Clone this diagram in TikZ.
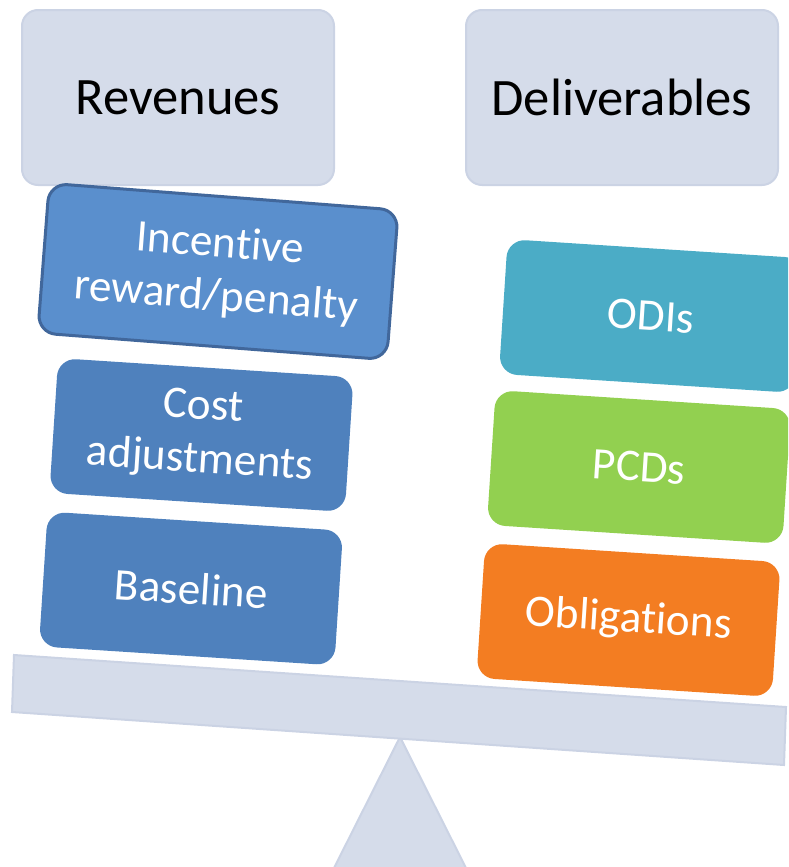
\documentclass[tikz,border=0pt]{standalone}
\usepackage{fontspec}
\setmainfont{Carlito}[Ligatures=NoCommon,RawFeature={-liga,-clig,-calt}]

\definecolor{panel}{HTML}{D5DCEA}
\definecolor{panelline}{HTML}{CBD3E4}
\definecolor{incentive}{HTML}{5A8FCD}
\definecolor{incentiveline}{HTML}{41679B}
\definecolor{revblue}{HTML}{4F81BD}
\definecolor{odiblue}{HTML}{4BACC6}
\definecolor{pcdgreen}{HTML}{92D050}
\definecolor{oblorange}{HTML}{F37D22}

\tikzset{
  heading/.style={draw=panelline,line width=1pt,fill=panel,rounded corners=8pt,
    minimum width=156pt,minimum height=87.5pt,text=black,
    font=\fontsize{26.3}{30}\selectfont},
  weight/.style={rounded corners=9pt,minimum width=148pt,minimum height=67.5pt,
    text=white,align=center,rotate=-3.7,
    font=\fontsize{22.6}{26.5}\selectfont},
}

\begin{document}
\begin{tikzpicture}[x=0.5pt,y=-0.5pt]
    \useasboundingbox (0,0) rectangle (788,867);
    \clip (0,0) rectangle (788,867);
    %% Pivot and beam
    \draw[panelline,fill=panel,line width=1pt] (400,737) -- (468,872) -- (332,872) -- cycle;
    \draw[panelline,fill=panel,line width=1pt] (14,655) -- (786,707) -- (784,765) -- (12,712) -- cycle;
    %% Headings
    \node[heading] (revenues) at (178,97.5) {Revenues};
    \node[heading] (deliverables) at (622,97.5) {Deliverables};
    %% Revenue side
    \node[weight,fill=incentive,draw=incentiveline,line width=1.5pt,
          minimum width=175pt,minimum height=75pt,rotate=-0.7] (incentive) at (218,271.5)
          {Incentive\\reward/penalty};
    \node[weight,fill=revblue] (costadj) at (201.5,435) {Cost\\adjustments};
    \node[weight,fill=revblue] (baseline) at (191,588.5) {Baseline};
    %% Deliverables side
    \node[weight,fill=odiblue] (odis) at (651,316) {ODIs};
    \node[weight,fill=pcdgreen] (pcds) at (639,467) {PCDs};
    \node[weight,fill=oblorange] (obligations) at (628.5,620) {Obligations};
\end{tikzpicture}
\end{document}
